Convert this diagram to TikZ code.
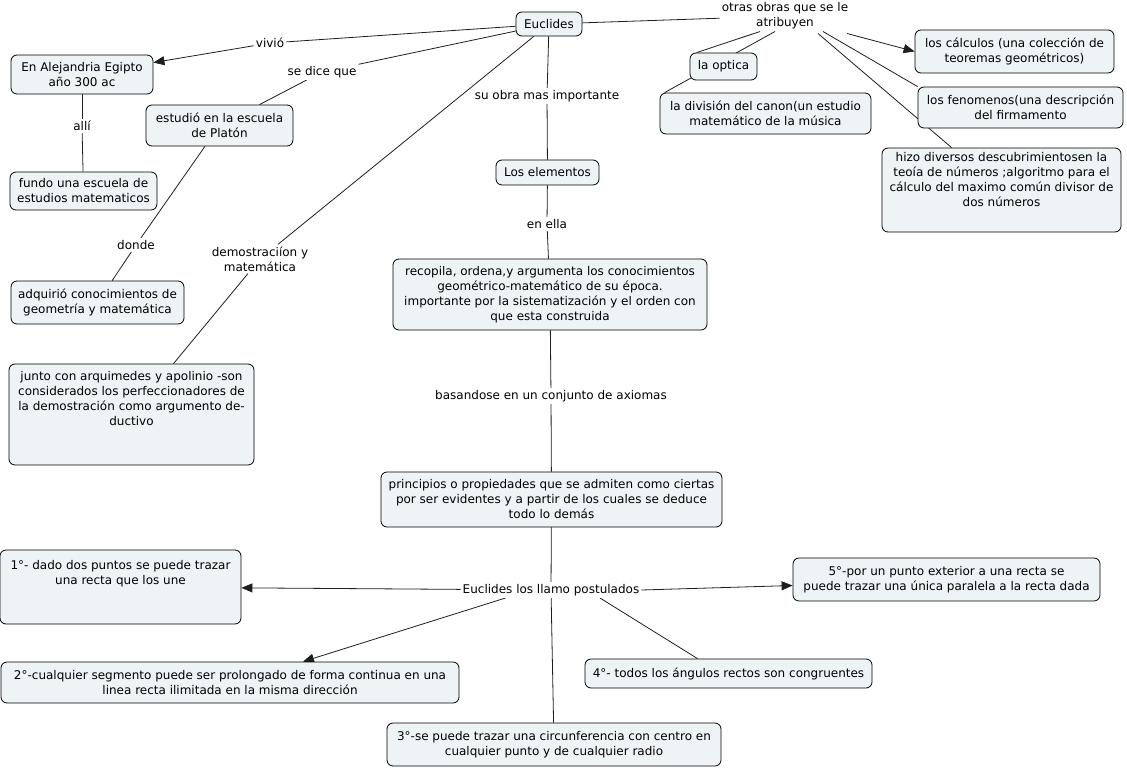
\documentclass[tikz,border=0pt]{standalone}
\usepackage{fontspec}
\setmainfont{DejaVu Sans}
\usetikzlibrary{arrows.meta,calc,backgrounds}
\definecolor{boxfill}{RGB}{238,243,245}
\definecolor{linec}{RGB}{30,30,30}
\begin{document}
\begin{tikzpicture}[x=1pt,y=-1pt,
  every node/.style={font=\fontsize{12}{15}\selectfont, inner sep=0pt, align=center},
  cbox/.style={draw=black, line width=0.8pt, fill=boxfill, rounded corners=6pt},
  lbl/.style={inner sep=2pt, fill=white},
  conn/.style={draw=linec, line width=0.8pt},
  arr/.style={conn, -{Triangle[length=11pt,width=9pt]}}]
\useasboundingbox (0,0) rectangle (1127,768);

% concept boxes
\node[cbox, minimum width=66, minimum height=24] (euc) at (549,24) {Euclides};
\node[cbox, minimum width=142, minimum height=39] (alej) at (82,74.5) {En Alejandria Egipto\\año 300 ac};
\node[cbox, minimum width=147, minimum height=38] (fundo) at (83.5,191) {fundo una escuela de\\estudios matematicos};
\node[cbox, minimum width=147, minimum height=41] (estud) at (219.5,125.5) {estudió en la escuela\\de Platón};
\node[cbox, minimum width=173, minimum height=43] (adq) at (97.5,302.5) {adquirió conocimientos de\\geometría y matemática};
\node[cbox, minimum width=245, minimum height=101] (junto) at (131.5,414.5)
  {\parbox[c][87pt][t]{240pt}{\centering junto con arquimedes y apolinio -son\\considerados los perfeccionadores de\\la demostración como argumento de-\\ductivo}};
\node[cbox, minimum width=103, minimum height=25] (elem) at (547.5,172.5) {Los elementos};
\node[cbox, minimum width=314, minimum height=71] (recop) at (550,294.5)
  {recopila, ordena,y argumenta los conocimientos\\geométrico-matemático de su época.\\importante por la sistematización y el orden con\\que esta construida};
\node[cbox, minimum width=341, minimum height=55] (princ) at (551.5,499.5)
  {principios o propiedades que se admiten como ciertas\\por ser evidentes y a partir de los cuales se deduce\\todo lo demás};
\node[cbox, minimum width=67, minimum height=27] (optica) at (723.5,66.5) {la optica};
\node[cbox, minimum width=211, minimum height=41] (divis) at (765.5,113.5) {la división del canon(un estudio\\matemático de la música};
\node[cbox, minimum width=199, minimum height=43] (calc) at (1014.5,51.5) {los cálculos (una colección de\\teoremas geométricos)};
\node[cbox, minimum width=205, minimum height=41] (fen) at (1020.5,107.5) {los fenomenos(una descripción\\del firmamento};
\node[cbox, minimum width=239, minimum height=84] (hizo) at (1001.5,190)
  {\parbox[c][76pt][t]{235pt}{\centering hizo diversos descubrimientosen la\\teoía de números ;algoritmo para el\\cálculo del maximo común divisor de\\dos números}};
\node[cbox, minimum width=241, minimum height=74] (p1) at (120.5,587)
  {\parbox[c][54pt][t]{236pt}{\centering 1°- dado dos puntos se puede trazar\\una recta que los une}};
\node[cbox, minimum width=458, minimum height=41] (p2) at (230,682.5)
  {2°-cualquier segmento puede ser prolongado de forma continua en una\\linea recta ilimitada en la misma dirección};
\node[cbox, minimum width=334, minimum height=43] (p3) at (554,744.5)
  {3°-se puede trazar una circunferencia con centro en\\cualquier punto y de cualquier radio};
\node[cbox, minimum width=287, minimum height=29] (p4) at (728.5,673.5) {4°- todos los ángulos rectos son congruentes};
\node[cbox, minimum width=307, minimum height=43] (p5) at (946.5,579.5)
  {5°-por un punto exterior a una recta se\\puede trazar una única paralela a la recta dada};

% linking phrases
\node[lbl] (lviv) at (270,43) {vivió};
\node[lbl] (lsdq) at (322,72) {se dice que};
\node[lbl] (lalli) at (82,126) {allí};
\node[lbl] (ldonde) at (136,245) {donde};
\node[lbl] (ldemo) at (260,259) {demostraciíon y\\matemática};
\node[lbl] (lobra) at (547,96) {su obra mas importante};
\node[lbl] (lella) at (547,224) {en ella};
\node[lbl] (lbas) at (551,396) {basandose en un conjunto de axiomas};
\node[lbl] (lpost) at (551,590) {Euclides los llamo postulados};
\node[lbl] (lotras) at (785,16) {otras obras que se le\\atribuyen};

\begin{scope}[on background layer]
\draw[conn] (euc) -- (lviv);
\draw[arr] (lviv) -- (alej);
\draw[conn] (euc) -- (lsdq);
\draw[conn] (lsdq) -- (estud);
\draw[conn] (alej) -- (lalli);
\draw[conn] (lalli) -- (fundo);
\draw[conn] (estud) -- (ldonde);
\draw[conn] (ldonde) -- (adq);
\draw[conn] (euc) -- (ldemo);
\draw[conn] (ldemo) -- (junto);
\draw[conn] (euc) -- (lobra);
\draw[conn] (lobra) -- (elem);
\draw[conn] (elem) -- (lella);
\draw[conn] (lella) -- (recop);
\draw[conn] (recop) -- (lbas);
\draw[conn] (lbas) -- (princ);
\draw[conn] (princ) -- (lpost);
\draw[arr] (lpost) -- (p1);
\draw[arr] ($(lpost.south west)+(45,0)$) -- ($(p2.north)+(73,0)$);
\draw[conn] (lpost) -- (p3);
\draw[conn] ($(lpost.south)+(49,0)$) -- ($(p4.north)+(-31,0)$);
\draw[arr] (lpost.east) -- ($(p5.west)+(0,6)$);
\draw[conn] (euc) -- (lotras);
\draw[conn] ($(lotras.south)+(-25,0)$) -- ($(optica.north west)+(7,0)$);
\draw[conn] ($(lotras.south)+(-10,0)$) -- ($(divis.north west)+(5,0)$);
\draw[arr] ($(lotras.south)+(62,2)$) -- (calc.west);
\draw[conn] ($(lotras.south)+(38,0)$) -- (fen.north west);
\draw[conn] ($(lotras.south)+(33,2)$) -- ($(hizo.north west)+(70,0)$);
\end{scope}
\end{tikzpicture}
\end{document}
